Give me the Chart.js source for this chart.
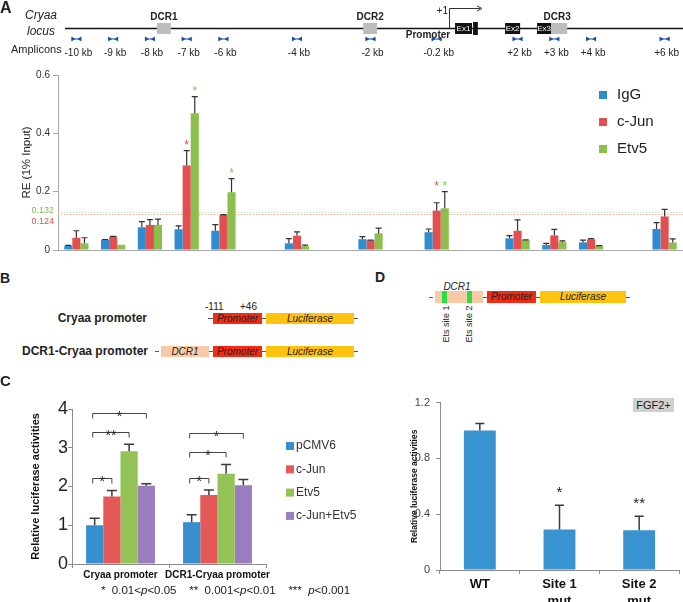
<!DOCTYPE html>
<html>
<head>
<meta charset="utf-8">
<script src="https://cdn.jsdelivr.net/npm/chart.js@4.4.0/dist/chart.umd.min.js"></script>
<style>
  body { margin: 0; background: #fff; }
  #page { position: relative; width: 683px; height: 602px; overflow: hidden; font-family: 'Liberation Sans', Arial, sans-serif; color: #222; }
  .abs { position: absolute; white-space: nowrap; }
  .letter { position: absolute; font-weight: bold; line-height: 1; }
  .box { position: absolute; box-sizing: border-box; font-style: italic; font-size: 10px; text-align: center; color: #222; }
  .promoter { background: #f42b12; }
  .luc { background: #ffc20e; }
  .dcr { background: #f9caa8; }
  .site { position: absolute; background: #26e03c; }
  .dash { position: absolute; height: 1px; background: #555; }
  .bl { font-weight: bold; font-size: 12px; line-height: 14px; }
</style>
</head>
<body>
<div id="page">
  <!-- panel A: locus map + ChIP bars share one canvas so amplicons line up with the bars -->
  <div class="abs" style="left:0;top:0;width:683px;height:262px"><canvas id="chartA"></canvas></div>
  <div class="letter" style="left:0;top:0;font-size:16px">A</div>

  <!-- panel B -->
  <div class="letter" style="left:0;top:271px;font-size:14px">B</div>
  <div class="abs" style="left:205px;top:301px;font-size:10px">-111</div>
  <div class="abs" style="left:240px;top:301px;font-size:10px">+46</div>
  <div class="abs bl" style="left:0;width:147px;text-align:right;top:311px">Cryaa promoter</div>
  <div class="dash" style="left:208px;top:318px;width:5px"></div>
  <div class="box promoter" style="left:213px;top:313px;width:49px;height:11px;line-height:11px">Promoter</div>
  <div class="dash" style="left:262px;top:318px;width:4px"></div>
  <div class="box luc" style="left:266px;top:313px;width:88px;height:11px;line-height:11px">Luciferase</div>
  <div class="dash" style="left:354px;top:318px;width:4px"></div>

  <div class="abs bl" style="left:0;width:148px;text-align:right;top:344px">DCR1-Cryaa promoter</div>
  <div class="dash" style="left:155px;top:351px;width:4px"></div>
  <div class="box dcr" style="left:161px;top:346px;width:48px;height:11px;line-height:11px">DCR1</div>
  <div class="dash" style="left:209px;top:351px;width:4px"></div>
  <div class="box promoter" style="left:213px;top:346px;width:49px;height:11px;line-height:11px">Promoter</div>
  <div class="dash" style="left:262px;top:351px;width:4px"></div>
  <div class="box luc" style="left:266px;top:346px;width:88px;height:11px;line-height:11px">Luciferase</div>
  <div class="dash" style="left:354px;top:351px;width:4px"></div>

  <!-- panel D construct -->
  <div class="letter" style="left:375px;top:270px;font-size:14px">D</div>
  <div class="abs" style="left:437px;top:281px;font-size:10px;font-style:italic;width:40px;text-align:center">DCR1</div>
  <div class="dash" style="left:429px;top:297px;width:4px"></div>
  <div class="box dcr" style="left:435px;top:291px;width:48px;height:12px"></div>
  <div class="site" style="left:442px;top:291px;width:5px;height:12px"></div>
  <div class="site" style="left:467px;top:291px;width:5px;height:12px"></div>
  <div class="dash" style="left:483px;top:297px;width:4px"></div>
  <div class="box promoter" style="left:487px;top:291px;width:49px;height:12px;line-height:12px">Promoter</div>
  <div class="dash" style="left:536px;top:297px;width:4px"></div>
  <div class="box luc" style="left:540px;top:291px;width:86px;height:12px;line-height:12px">Luciferase</div>
  <div class="dash" style="left:626px;top:297px;width:4px"></div>
  <div class="abs" style="left:421px;top:319px;width:50px;font-size:9px;line-height:10px;text-align:center;transform:rotate(-90deg)">Ets site 1</div>
  <div class="abs" style="left:444px;top:319px;width:50px;font-size:9px;line-height:10px;text-align:center;transform:rotate(-90deg)">Ets site 2</div>

  <!-- panel C -->
  <div class="letter" style="left:0;top:373px;font-size:15px">C</div>
  <div class="abs" style="left:0;top:395px;width:360px;height:200px"><canvas id="chartC"></canvas></div>
  <div class="abs" style="left:101px;top:584px;font-size:11.5px;white-space:pre">*  0.01&lt;<i>p</i>&lt;0.05    **  0.001&lt;<i>p</i>&lt;0.01    ***  <i>p</i>&lt;0.001</div>

  <!-- panel D chart -->
  <div class="abs" style="left:380px;top:390px;width:303px;height:212px"><canvas id="chartD"></canvas></div>
  <div class="abs" style="left:633px;top:398px;width:41px;height:14px;background:#d0d0d0;font-size:11px;line-height:14px;text-align:center">FGF2+</div>
</div>

<script>
Chart.defaults.font.family = "'Liberation Sans', Arial, sans-serif";
Chart.defaults.color = '#333';

// ---------- Panel A: ChIP across the Cryaa locus ----------
const ampliconKb = [-10, -9, -8, -7, -6, -4, -2, -0.2, 2, 3, 4, 6];
const ampliconLabels = ['-10 kb', '-9 kb', '-8 kb', '-7 kb', '-6 kb', '-4 kb', '-2 kb', '-0.2 kb', '+2 kb', '+3 kb', '+4 kb', '+6 kb'];
const chipNames = ['IgG', 'c-Jun', 'Etv5'];
const igg     = [0.014, 0.035, 0.078, 0.071, 0.066, 0.023, 0.037, 0.061, 0.040, 0.017, 0.026, 0.072];
const iggErr  = [0.002, 0.001, 0.019, 0.012, 0.021, 0.016, 0.009, 0.011, 0.009, 0.006, 0.008, 0.022];
const cJun    = [0.042, 0.046, 0.086, 0.290, 0.120, 0.049, 0.033, 0.135, 0.066, 0.050, 0.037, 0.115];
const cJunErr = [0.024, 0.001, 0.018, 0.051, 0.001, 0.013, 0.001, 0.027, 0.037, 0.021, 0.002, 0.024];
const etv5    = [0.023, 0.018, 0.086, 0.469, 0.198, 0.013, 0.057, 0.143, 0.034, 0.027, 0.014, 0.026];
const etv5Err = [0.019, 0.000, 0.020, 0.057, 0.047, 0.004, 0.018, 0.057, 0.001, 0.004, 0.001, 0.012];
const cJunSig = [3, 7];      // amplicon indices marked with *
const etv5Sig = [3, 4, 7];
const etv5Cutoff = 0.132;
const cJunCutoff = 0.124;

// locus map features, in kb along the same axis as the amplicons
const dcrBoxes = [{ name: 'DCR1', from: -7.81, to: -7.43 }, { name: 'DCR2', from: -2.2, to: -1.82 }, { name: 'DCR3', from: 2.91, to: 3.35 }];
const exons = [{ name: 'Ex1', from: 0.30, to: 0.76 }, { name: '', from: 0.79, to: 0.92 }, { name: 'Ex2', from: 1.66, to: 2.07 }, { name: 'Ex3', from: 2.53, to: 2.91 }];
const tssKb = 0.135;

// ---------- Panel C: luciferase, two constructs ----------
const constructs = ['Cryaa promoter', 'DCR1-Cryaa promoter'];
const vectorNames = ['pCMV6', 'c-Jun', 'Etv5', 'c-Jun+Etv5'];
const pcmv6Luc = [1.00, 1.08];
const pcmv6Sd  = [0.18, 0.19];
const cJunLuc  = [1.74, 1.78];
const cJunSd   = [0.16, 0.13];
const etv5Luc  = [2.91, 2.33];
const etv5Sd   = [0.18, 0.24];
const comboLuc = [2.02, 2.03];
const comboSd  = [0.05, 0.15];
const cStars = [['*', '**', '*'], ['*', '*', '*']]; // pCMV6 vs c-Jun, Etv5, c-Jun+Etv5

// ---------- Panel D: Ets site mutants ----------
const mutLabels = ['WT', ['Site 1', 'mut'], ['Site 2', 'mut']];
const mutLuc = [1.0, 0.29, 0.285];
const mutSd  = [0.05, 0.175, 0.10];
const mutStars = ['', '*', '**'];

const colA = ['#2f8cce', '#e14f4f', '#8cbf4e'];
const colC = ['#3690cd', '#e55a58', '#93c356', '#9a7cbf'];
const colD = '#3993d0';

function drawErrorBars(chart, capHalf, color, width) {
  const { ctx } = chart;
  const y = chart.scales.y;
  ctx.save();
  ctx.strokeStyle = color;
  ctx.lineWidth = width;
  chart.data.datasets.forEach((ds, i) => {
    const meta = chart.getDatasetMeta(i);
    meta.data.forEach((bar, j) => {
      const e = ds.errors[j];
      if (!e) return;
      const top = y.getPixelForValue(meta._parsed[j].y + e);
      ctx.beginPath();
      ctx.moveTo(bar.x, bar.y);
      ctx.lineTo(bar.x, top);
      ctx.moveTo(bar.x - capHalf, top);
      ctx.lineTo(bar.x + capHalf, top);
      ctx.stroke();
    });
  });
  ctx.restore();
}

function bowtie(ctx, x, y) {
  ctx.beginPath();
  ctx.moveTo(x - 5, y - 2.5); ctx.lineTo(x - 1, y); ctx.lineTo(x - 5, y + 2.5); ctx.closePath();
  ctx.moveTo(x + 5, y - 2.5); ctx.lineTo(x + 1, y); ctx.lineTo(x + 5, y + 2.5); ctx.closePath();
  ctx.fill();
  ctx.fillRect(x - 5, y - 0.5, 10, 1);
}

const locusPlugin = {
  id: 'locus',
  beforeDatasetsDraw(chart) {
    const { ctx, chartArea } = chart;
    const y = chart.scales.y;
    ctx.save();
    ctx.setLineDash([1.5, 1.5]);
    ctx.lineWidth = 1;
    [[etv5Cutoff, '#cfe6b8'], [cJunCutoff, '#f3b0b0']].forEach(([v, c]) => {
      const py = Math.round(y.getPixelForValue(v)) + 0.5;
      ctx.strokeStyle = c;
      ctx.beginPath(); ctx.moveTo(chartArea.left, py); ctx.lineTo(chartArea.right, py); ctx.stroke();
    });
    ctx.restore();
  },
  afterDraw(chart) {
    const { ctx, chartArea } = chart;
    const x = chart.scales.x, y = chart.scales.y;
    ctx.save();

    // cutoff labels
    ctx.font = '9px "Liberation Sans", Arial';
    ctx.textAlign = 'right';
    ctx.textBaseline = 'middle';
    ctx.fillStyle = '#7fba4a';
    ctx.fillText(String(etv5Cutoff), 54, y.getPixelForValue(etv5Cutoff) - 1);
    ctx.fillStyle = '#e05050';
    ctx.fillText(String(cJunCutoff), 54, y.getPixelForValue(cJunCutoff) + 8);

    // error bars and significance stars
    drawErrorBars(chart, 3, '#333', 1.2);
    const sig = [[], cJunSig, etv5Sig];
    ctx.font = '12px "Liberation Sans", Arial';
    ctx.textAlign = 'center';
    ctx.textBaseline = 'alphabetic';
    ampliconKb.forEach((kb, j) => {
      const starred = [1, 2].filter(i => sig[i].includes(j));
      const tops = starred.map(i => chart.data.datasets[i].data[j].y + chart.data.datasets[i].errors[j]);
      const shared = tops.length > 1 && Math.max(...tops) - Math.min(...tops) < 0.05;
      starred.forEach((i, k) => {
        const top = shared ? Math.max(...tops) : tops[k];
        const bar = chart.getDatasetMeta(i).data[j];
        ctx.fillStyle = colA[i];
        ctx.fillText('*', bar.x, y.getPixelForValue(top) - 1.5);
      });
    });

    // legend
    ctx.font = '15px "Liberation Sans", Arial';
    ctx.textAlign = 'left';
    ctx.textBaseline = 'middle';
    chipNames.forEach((n, i) => {
      const ly = 95 + i * 27;
      ctx.fillStyle = colA[i];
      ctx.fillRect(599, ly - 4, 8, 8);
      ctx.fillStyle = '#222';
      ctx.fillText(n, 617, ly);
    });

    // locus map
    const lineY = 28.5;
    ctx.strokeStyle = '#111';
    ctx.lineWidth = 1.5;
    ctx.beginPath(); ctx.moveTo(65, lineY); ctx.lineTo(chartArea.right, lineY); ctx.stroke();

    ctx.font = 'italic 12px "Liberation Sans", Arial';
    ctx.textAlign = 'center';
    ctx.fillStyle = '#222';
    ctx.fillText('Cryaa', 41, 16);
    ctx.fillText('locus', 41, 32);
    ctx.font = '11px "Liberation Sans", Arial';
    ctx.textAlign = 'left';
    ctx.fillText('Amplicons', 11, 50);

    dcrBoxes.forEach(b => {
      const x0 = x.getPixelForValue(b.from), x1 = x.getPixelForValue(b.to);
      ctx.fillStyle = '#bdbdbd';
      ctx.fillRect(x0, 23, x1 - x0, 11);
      ctx.fillStyle = '#222';
      ctx.font = 'bold 10px "Liberation Sans", Arial';
      ctx.textAlign = 'center';
      ctx.fillText(b.name, (x0 + x1) / 2 + (b.name === 'DCR3' ? -2 : 0), 17);
    });
    exons.forEach(e => {
      const x0 = x.getPixelForValue(e.from), x1 = x.getPixelForValue(e.to);
      ctx.fillStyle = '#111';
      ctx.fillRect(x0, e.name ? 23 : 22, x1 - x0, e.name ? 11 : 13);
      if (e.name) {
        ctx.fillStyle = '#fff';
        ctx.font = '8px "Liberation Sans", Arial';
        ctx.fillText(e.name, (x0 + x1) / 2, 29);
      }
    });

    // transcription start arrow
    const tx = x.getPixelForValue(tssKb);
    ctx.strokeStyle = '#333';
    ctx.lineWidth = 1;
    ctx.beginPath(); ctx.moveTo(tx + 0.5, lineY); ctx.lineTo(tx + 0.5, 8.5); ctx.lineTo(tx + 31, 8.5); ctx.stroke();
    ctx.beginPath(); ctx.moveTo(tx + 28, 6); ctx.lineTo(tx + 33, 8.5); ctx.lineTo(tx + 28, 11); ctx.stroke();
    ctx.fillStyle = '#222';
    ctx.font = '10px "Liberation Sans", Arial';
    ctx.textAlign = 'right';
    ctx.fillText('+1', tx - 1, 11);
    ctx.font = 'bold 10px "Liberation Sans", Arial';
    ctx.textAlign = 'center';
    ctx.fillText('Promoter', tx - 21, 35);

    // amplicons
    ampliconKb.forEach((kb, j) => {
      const px = x.getPixelForValue(kb);
      ctx.fillStyle = '#1c4f9c';
      bowtie(ctx, px, 39);
      ctx.fillStyle = '#222';
      ctx.font = '10px "Liberation Sans", Arial';
      ctx.textAlign = 'center';
      ctx.fillText(ampliconLabels[j], px + 2, 53);
    });
    ctx.restore();
  }
};

new Chart(document.getElementById('chartA'), {
  type: 'bar',
  data: {
    datasets: [
      { label: chipNames[0], data: ampliconKb.map((k, i) => ({ x: k, y: igg[i] })), errors: iggErr, backgroundColor: colA[0] },
      { label: chipNames[1], data: ampliconKb.map((k, i) => ({ x: k, y: cJun[i] })), errors: cJunErr, backgroundColor: colA[1] },
      { label: chipNames[2], data: ampliconKb.map((k, i) => ({ x: k, y: etv5[i] })), errors: etv5Err, backgroundColor: colA[2] }
    ]
  },
  options: {
    responsive: true,
    maintainAspectRatio: false,
    animation: false,
    layout: { padding: { left: 0, right: 0, top: 75, bottom: 12 } },
    datasets: { bar: { categoryPercentage: 0.66, barPercentage: 1 } },
    plugins: { legend: { display: false }, tooltip: { enabled: false } },
    scales: {
      x: {
        type: 'linear', min: -10.5, max: 6.5, offset: false,
        grid: { display: false }, ticks: { display: false },
        border: { color: '#a8a8a8' },
        afterBuildTicks: s => { s.ticks = []; },
        afterFit: s => { s.height = 0; }
      },
      y: {
        min: 0, max: 0.6,
        ticks: { stepSize: 0.2, font: { size: 10 }, color: '#333', padding: 3 },
        grid: { drawOnChartArea: false, tickLength: 5, color: '#a8a8a8' },
        border: { color: '#a8a8a8' },
        title: { display: true, text: 'RE (1% Input)', font: { size: 11.5 }, color: '#222', padding: { top: 20, bottom: 0 } },
        afterFit: s => { s.width = 58; }
      }
    }
  },
  plugins: [locusPlugin]
});

// ---------- Panel C chart ----------
const cValues = [pcmv6Luc, cJunLuc, etv5Luc, comboLuc];
const cErrors = [pcmv6Sd, cJunSd, etv5Sd, comboSd];

const cPlugin = {
  id: 'cExtras',
  afterDraw(chart) {
    const { ctx } = chart;
    const y = chart.scales.y;
    drawErrorBars(chart, 5, '#3a3a3a', 1.5);
    ctx.save();
    // brackets: pCMV6 against each other vector
    constructs.forEach((c, g) => {
      let prev = -Infinity;
      for (let k = 1; k <= 3; k++) {
        let top = 0;
        for (let i = 0; i <= k; i++) top = Math.max(top, cValues[i][g] + cErrors[i][g]);
        const level = Math.max(top + 0.32, prev + 0.48);
        prev = level;
        const x0 = chart.getDatasetMeta(0).data[g].x - 2;
        const x1 = chart.getDatasetMeta(k).data[g].x;
        const py = Math.round(y.getPixelForValue(level)) + 0.5;
        ctx.strokeStyle = '#444';
        ctx.lineWidth = 1;
        ctx.beginPath();
        ctx.moveTo(x0, py + 5); ctx.lineTo(x0, py); ctx.lineTo(x1, py); ctx.lineTo(x1, py + 5);
        ctx.stroke();
        ctx.fillStyle = '#222';
        ctx.font = '14px "Liberation Sans", Arial';
        ctx.textAlign = 'center';
        ctx.fillText(cStars[g][k - 1], (x0 + x1) / 2, py + 7);
      }
    });
    // legend
    ctx.font = '12px "Liberation Sans", Arial';
    ctx.textAlign = 'left';
    ctx.textBaseline = 'middle';
    vectorNames.forEach((n, i) => {
      const ly = 51 + i * 23.3;
      ctx.fillStyle = colC[i];
      ctx.fillRect(286, ly - 4, 8, 8);
      ctx.fillStyle = '#333';
      ctx.fillText(n, 296, ly);
    });
    ctx.restore();
  }
};

new Chart(document.getElementById('chartC'), {
  type: 'bar',
  data: {
    labels: constructs,
    datasets: vectorNames.map((n, i) => ({ label: n, data: cValues[i], errors: cErrors[i], backgroundColor: colC[i] }))
  },
  options: {
    responsive: true,
    maintainAspectRatio: false,
    animation: false,
    layout: { padding: { left: 0, right: 94, top: 14, bottom: 6 } },
    datasets: { bar: { categoryPercentage: 0.71, barPercentage: 1 } },
    plugins: { legend: { display: false }, tooltip: { enabled: false } },
    scales: {
      x: {
        grid: { drawOnChartArea: false, tickLength: 4, color: '#8c8c8c', offset: true },
        border: { color: '#8c8c8c' },
        ticks: { font: { size: 10, weight: 'bold' }, color: '#111', padding: 1, maxRotation: 0, autoSkip: false },
        afterFit: s => { s.height = 25; }
      },
      y: {
        min: 0, max: 4,
        ticks: { stepSize: 1, font: { size: 18 }, color: '#222', padding: 0 },
        grid: { drawOnChartArea: false, tickLength: 4, color: '#8c8c8c' },
        border: { color: '#8c8c8c' },
        title: { display: true, text: 'Relative luciferase activities', font: { size: 11, weight: 'bold' }, color: '#111', padding: { top: 29, bottom: 0 } },
        afterFit: s => { s.width = 72; }
      }
    }
  },
  plugins: [cPlugin]
});

// ---------- Panel D chart ----------
const dPlugin = {
  id: 'dExtras',
  afterDraw(chart) {
    const { ctx } = chart;
    const y = chart.scales.y;
    drawErrorBars(chart, 4.5, '#3a3a3a', 1.5);
    ctx.save();
    ctx.fillStyle = '#222';
    ctx.font = '15px "Liberation Sans", Arial';
    ctx.textAlign = 'center';
    chart.getDatasetMeta(0).data.forEach((bar, j) => {
      if (!mutStars[j]) return;
      ctx.fillText(mutStars[j], bar.x, y.getPixelForValue(mutLuc[j] + mutSd[j]) - 8);
    });
    ctx.restore();
  }
};

new Chart(document.getElementById('chartD'), {
  type: 'bar',
  data: {
    labels: mutLabels,
    datasets: [{ label: 'FGF2+', data: mutLuc, errors: mutSd, backgroundColor: colD }]
  },
  options: {
    responsive: true,
    maintainAspectRatio: false,
    animation: false,
    layout: { padding: { left: 0, right: 4, top: 7, bottom: 0 } },
    datasets: { bar: { categoryPercentage: 0.8, barPercentage: 0.5 } },
    plugins: { legend: { display: false }, tooltip: { enabled: false } },
    scales: {
      x: {
        grid: { drawOnChartArea: false, tickLength: 4, color: '#8c8c8c', offset: true },
        border: { color: '#8c8c8c' },
        ticks: { font: { size: 13, weight: 'bold', lineHeight: 1.3 }, color: '#111', padding: 2, maxRotation: 0, autoSkip: false },
        afterFit: s => { s.height = 32; }
      },
      y: {
        min: 0, max: 1.2,
        ticks: { stepSize: 0.4, font: { size: 11 }, color: '#444', padding: 6 },
        grid: { drawOnChartArea: false, tickLength: 4, color: '#8c8c8c' },
        border: { color: '#8c8c8c' },
        title: { display: true, text: 'Relative luciferase activities', font: { size: 8.5, weight: 'bold' }, color: '#111', padding: { top: 30, bottom: 0 } },
        afterFit: s => { s.width = 60; }
      }
    }
  },
  plugins: [dPlugin]
});
</script>
</body>
</html>
